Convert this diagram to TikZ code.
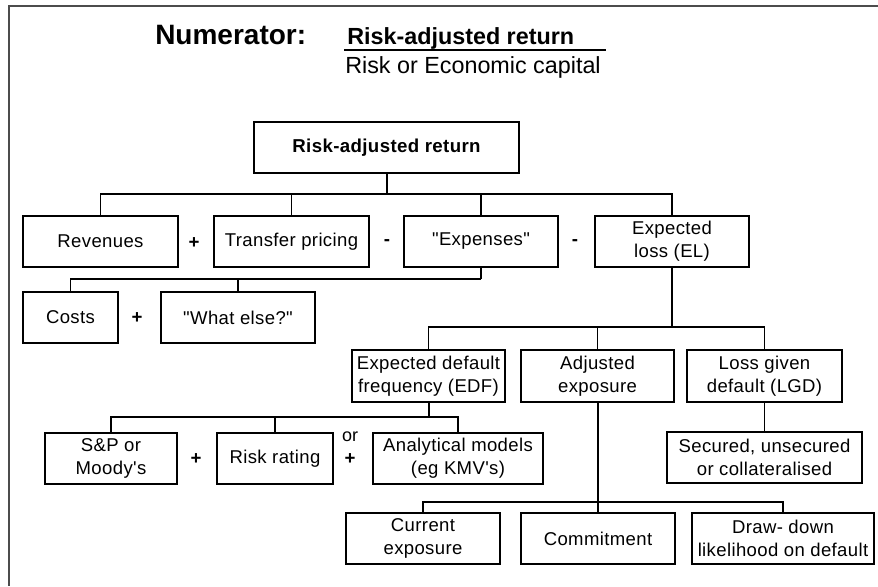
\documentclass[tikz,border=0pt]{standalone}
\usepackage{fontspec}
\setmainfont{Liberation Sans}[Ligatures=TeXOff]
\newfontfamily\boxfont{Liberation Sans}[Ligatures=TeXOff, LetterSpace=2]
\begin{document}
\begin{tikzpicture}[x=0.75pt,y=-0.75pt,
  bx/.style n args={2}{draw=black, line width=0.8pt, inner sep=0pt, align=center,
     minimum width=#1*0.75pt, minimum height=#2*0.75pt,
     font=\boxfont\fontsize{13.9}{17.2}\selectfont},
  conn/.style={line width=0.8pt, draw=black},
  thick conn/.style={line width=1.5pt, draw=black},
  sign/.style={font=\fontsize{14}{16}\selectfont\bfseries, inner sep=0pt},
  orlbl/.style={font=\fontsize{13.5}{16}\selectfont, inner sep=0pt},
  ttl/.style={inner sep=0pt, anchor=base west}]
\useasboundingbox (0,0) rectangle (878,586);
\fill[white] (0,0) rectangle (878,586);
% frame
\draw[line width=0.9pt, draw=black!70] (878,6) -- (9,6) -- (9,586);
% title
\node[ttl, font=\fontsize{21}{24}\selectfont\bfseries] (numer) at (155,44) {Numerator:};
\node[ttl, font=\fontsize{17.5}{21}\selectfont\bfseries] (ttop) at (347,44) {Risk-adjusted return};
\node[ttl, font=\fontsize{17.5}{21}\selectfont] (tbot) at (345,73) {Risk or Economic capital};
\coordinate (fl) at (344,50);
\coordinate (fr) at (606,50);
\draw[line width=0.9pt] (fl) -- (fr);
% boxes
\node[bx={265}{51}, font=\boxfont\fontsize{14}{17}\selectfont\bfseries] (top) at (386.5,147.5) {Risk-adjusted return};
\node[bx={155}{51}] (rev) at (100.5,241.5) {Revenues};
\node[bx={155}{51}] (tp) at (291.5,241.5) {Transfer pricing};
\node[bx={154}{51}] (exp) at (481,241.5) {"Expenses"};
\node[bx={154}{51}] (el) at (672,241.5) {Expected\\loss (EL)};
\node[bx={95}{51}] (costs) at (70.5,317.5) {Costs};
\node[bx={154}{51}] (what) at (238,317.5) {"What else?"};
\node[bx={153}{52}] (edf) at (428.5,376) {Expected default\\frequency (EDF)};
\node[bx={153}{52}] (adj) at (597.5,376) {Adjusted\\exposure};
\node[bx={155}{52}] (lgd) at (764.5,376) {Loss given\\default (LGD)};
\node[bx={132}{51}] (sp) at (111,458.5) {S\&P or\\Moody's};
\node[bx={116}{51}] (rr) at (275,458.5) {Risk rating};
\node[bx={170}{51}] (am) at (458,458.5) {Analytical models\\(eg KMV's)};
\node[bx={195}{51}] (sec) at (764.5,457.5) {Secured, unsecured\\or collateralised};
\node[bx={154}{51}] (cur) at (423,538.5) {Current\\exposure};
\node[bx={154}{51}] (com) at (598,538.5) {Commitment};
\node[bx={182}{51}] (dd) at (783,538.5) {Draw- down\\likelihood on default};
% signs
\node[sign] (s1) at (194,243) {+};
\node[sign] (s2) at (387,243) {-};
\node[sign] (s3) at (575,243) {-};
\node[sign] (s4) at (137,318) {+};
\node[sign] (s5) at (196,459) {+};
\node[sign] (s6) at (350,459) {+};
\node[orlbl] (or) at (350,437) {or};
% bus coordinates
\coordinate (b1) at (386.5,194);
\coordinate (b2) at (481,279);
\coordinate (b3) at (672,327);
\coordinate (b4) at (428.5,417);
\coordinate (b5) at (597.5,502);
% connectors
\draw[conn] (rev.north) |- (el.north |- b1) -- (el.north);
\draw[conn] (tp.north) -- (tp.north |- b1);
\draw[conn] (exp.north) -- (exp.north |- b1);
\draw[thick conn] (top.south) -- (b1);
\draw[conn] (costs.north) |- (b2);
\draw[conn] (what.north) -- (what.north |- b2);
\draw[thick conn] (exp.south) -- (b2);
\draw[conn] (edf.north) |- (lgd.north |- b3) -- (lgd.north);
\draw[conn] (adj.north) -- (adj.north |- b3);
\draw[thick conn] (el.south) -- (b3);
\draw[conn] (sp.north) |- (am.north |- b4) -- (am.north);
\draw[conn] (rr.north) -- (rr.north |- b4);
\draw[thick conn] (edf.south) -- (b4);
\draw[conn] (lgd.south) -- (sec.north);
\draw[conn] (cur.north) |- (dd.north |- b5) -- (dd.north);
\draw[conn] (com.north) -- (com.north |- b5);
\draw[thick conn] (adj.south) -- (b5);
\end{tikzpicture}
\end{document}
